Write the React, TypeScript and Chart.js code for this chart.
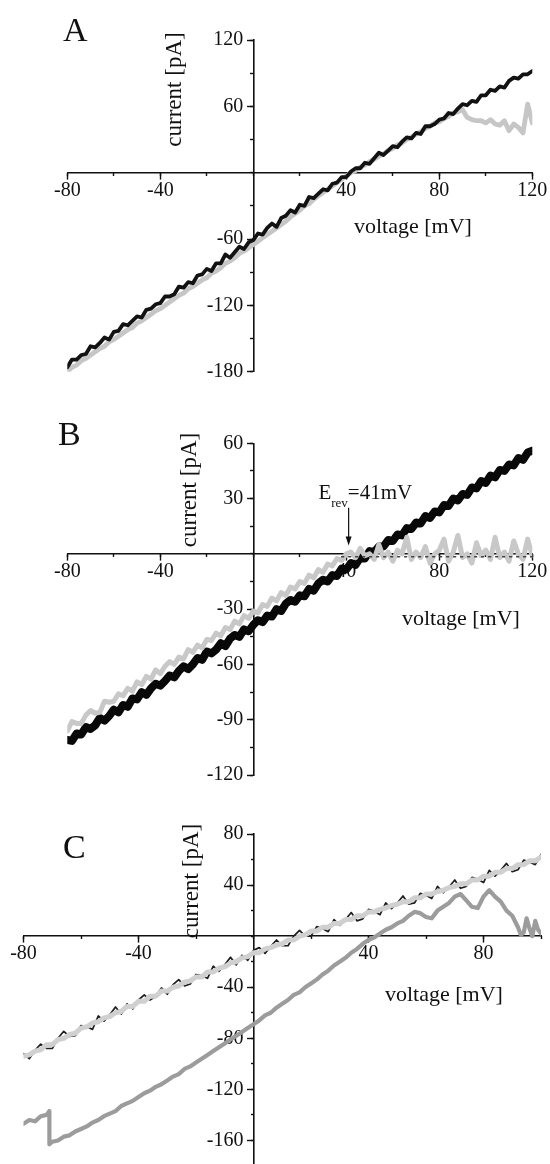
import React, { useEffect, useRef } from 'react';
import { Chart, registerables } from 'chart.js';

Chart.register(...registerables);

const SERIF = "'Liberation Serif', 'Times New Roman', Times, serif";
const INK = '#111111';

// ---------------- Panel A data ----------------
const voltageAB = [
  -80, -78, -76, -74, -72, -70, -68, -66, -64, -62,
  -60, -58, -56, -54, -52, -50, -48, -46, -44, -42,
  -40, -38, -36, -34, -32, -30, -28, -26, -24, -22,
  -20, -18, -16, -14, -12, -10, -8, -6, -4, -2,
  0, 2, 4, 6, 8, 10, 12, 14, 16, 18,
  20, 22, 24, 26, 28, 30, 32, 34, 36, 38,
  40, 42, 44, 46, 48, 50, 52, 54, 56, 58,
  60, 62, 64, 66, 68, 70, 72, 74, 76, 78,
  80, 82, 84, 86, 88, 90, 92, 94, 96, 98,
  100, 102, 104, 106, 108, 110, 112, 114, 116, 118,
  120,
];

const currentA_black = [
  -176, -169, -169, -165, -164, -157, -158, -154, -149, -151,
  -144, -143, -137, -138, -134, -130, -131, -124, -123, -119,
  -118, -112, -112, -110, -103, -104, -99, -100, -93, -92,
  -87, -89, -82, -82, -74, -77, -72, -67, -69, -63,
  -61, -55, -56, -50, -46, -49, -41, -39, -34, -36,
  -29, -30, -22, -23, -19, -15, -16, -10, -9, -4,
  -4, 1, 4, 4, 9, 8, 13, 18, 16, 20,
  24, 23, 28, 32, 31, 36, 35, 42, 42, 44,
  48, 49, 54, 53, 58, 62, 61, 65, 64, 70,
  70, 75, 74, 78, 77, 83, 86, 85, 89, 89,
  92,
];

const currentA_gray = [
  -180, -176, -174, -170, -168, -165, -162, -159, -157, -153,
  -151, -148, -145, -142, -140, -136, -134, -131, -128, -125,
  -123, -120, -117, -114, -111, -109, -105, -103, -100, -97,
  -95, -91, -89, -86, -82, -80, -77, -73, -71, -68,
  -65, -62, -59, -56, -53, -50, -47, -44, -40, -37,
  -34, -30, -28, -24, -21, -18, -15, -12, -9, -6,
  -3, 0, 2, 5, 7, 10, 12, 15, 17, 20,
  22, 25, 27, 30, 32, 35, 37, 40, 42, 45,
  46, 49, 51, 54, 55, 57, 50, 48, 47, 47,
  45, 48, 44, 43, 47, 38, 44, 41, 36, 62,
  45,
];

const xTicksA = [-80, -40, 40, 80, 120];
const xMinorA = [-80, -60, -40, -20, 0, 20, 40, 60, 80, 100, 120];
const yTicksA = [120, 60, -60, -120, -180];
const yMinorA = [120, 90, 60, 30, 0, -30, -60, -90, -120, -150, -180];

// ---------------- Panel B data ----------------
const currentB_black = [
  -101, -101.5, -97.5, -98, -94, -95, -93, -89, -90.5, -88,
  -84.5, -86, -82, -83, -78.5, -79, -75, -76.5, -73, -70.5,
  -71.5, -69, -66, -67, -63.5, -61, -62.5, -60, -56.5, -57.5,
  -53, -54, -52, -48.5, -50, -46, -44, -45, -41, -42,
  -38.5, -36, -37, -33.5, -34, -30, -31, -27, -25, -26,
  -22.5, -23, -19, -20, -16, -14, -15, -11.5, -12, -8,
  -8.5, -5, -6, -2, -2.5, 1.5, 1, 4, 4, 7.5,
  7, 10.5, 10, 14, 13.5, 17, 16.5, 20.5, 19.5, 23,
  22.5, 26.5, 26, 30, 29, 32.5, 32, 36, 35.5, 39.5,
  38.5, 42.5, 41.5, 45.5, 45, 48.5, 48, 52, 51, 55,
  56,
];

const currentB_gray = [
  -96, -91, -92, -92, -87.5, -85, -86.5, -86, -80, -80.5,
  -80, -76, -77, -73, -74.5, -69.5, -71, -66.5, -68, -63,
  -65, -61, -58.5, -60, -56, -57, -52, -53.5, -49.5, -51,
  -46.5, -47, -43, -44.5, -40, -41, -36.5, -38, -33.5, -35,
  -31, -32, -27.5, -28.5, -24, -25.5, -21, -22.5, -18, -19,
  -15, -16, -11.5, -13, -8.5, -10, -5.5, -6.5, -2.5, -3.5,
  0, 1, -2, 3, -1, 0, -3, 5, -2, 1,
  -4, 2, 0, 9, -3, 1, -2, 4, -5, 0,
  2, 8, -4, 1, 10, -2, 0, -5, 6, -1,
  2, -3, 9, -2, 1, -4, 7, 0, -3, 8,
  -1,
];

const voltageB_dotted = [38, 120];
const currentB_dotted = [-1.5, -1.5];

const E_REV = 41; // mV
const xTicksB = [-80, -40, 40, 80, 120];
const xMinorB = [-80, -60, -40, -20, 0, 20, 40, 60, 80, 100, 120];
const yTicksB = [60, 30, -30, -60, -90, -120];
const yMinorB = [60, 45, 30, 15, 0, -15, -30, -45, -60, -75, -90, -105, -120];

// ---------------- Panel C data ----------------
const voltageC = [
  -80, -78, -76, -74, -72, -70, -68, -66, -64, -62,
  -60, -58, -56, -54, -52, -50, -48, -46, -44, -42,
  -40, -38, -36, -34, -32, -30, -28, -26, -24, -22,
  -20, -18, -16, -14, -12, -10, -8, -6, -4, -2,
  0, 2, 4, 6, 8, 10, 12, 14, 16, 18,
  20, 22, 24, 26, 28, 30, 32, 34, 36, 38,
  40, 42, 44, 46, 48, 50, 52, 54, 56, 58,
  60, 62, 64, 66, 68, 70, 72, 74, 76, 78,
  80, 82, 84, 86, 88, 90, 92, 94, 96, 98,
  100,
];

const currentC_light = [
  -94, -93, -90, -89, -85, -85, -81, -80, -77, -76,
  -72, -71, -68, -67, -64, -63, -60, -59, -55, -55,
  -51, -51, -47, -47, -43, -43, -40, -39, -36, -35,
  -32, -32, -28, -28, -25, -24, -21, -20, -17, -16,
  -13, -13, -10, -9, -7, -6, -3, -3, 0, 1,
  4, 4, 7, 7, 10, 10, 13, 13, 16, 16,
  19, 19, 21, 22, 24, 25, 27, 27, 30, 30,
  33, 33, 35, 36, 38, 39, 41, 41, 44, 44,
  47, 47, 50, 50, 53, 53, 56, 56, 59, 59,
  62,
];

const currentC_black = [
  -92, -96, -89.5, -84.5, -88, -88, -80, -74.5, -78.5, -78,
  -70, -71, -73, -62.5, -66.5, -61.5, -55.5, -61, -53, -57,
  -50, -46, -50, -47, -40.5, -45.5, -38, -34, -39, -37.5,
  -30, -31, -33, -23.5, -27.5, -22.5, -16.5, -22.5, -15, -19,
  -11, -9, -13.5, -8, -3, -7.5, -7.5, 0, 4.5, 0,
  0, 7.5, 6, 3.5, 13, 8.5, 13, 18.5, 12, 13.5,
  21, 19.5, 16.8, 26, 21.5, 26, 31.5, 25, 26, 33.5,
  32, 29.5, 39, 34, 38.5, 44, 37.5, 39, 46, 44.5,
  42, 51.5, 47, 51.5, 57, 50.5, 52, 59.5, 58, 56,
  64,
];

const voltageC_mid = [
  -80, -78, -76, -74, -72, -71, -71,
  -70, -68, -66, -64, -62, -60, -58, -56, -54, -52,
  -50, -48, -46, -44, -42, -40, -38, -36, -34, -32,
  -30, -28, -26, -24, -22, -20, -18, -16, -14, -12,
  -10, -8, -6, -4, -2, 0, 2, 4, 6, 8,
  10, 12, 14, 16, 18, 20, 22, 24, 26, 28,
  30, 32, 34, 36, 38, 40, 42, 44, 46, 48,
  50, 52, 54, 56, 58, 60, 62, 64, 66, 68,
  70, 72, 74, 76, 78, 80, 82, 84, 86, 88,
  90, 92, 93, 94, 95, 96, 97, 98, 99, 100,
];

const currentC_mid = [
  -147, -144, -145, -141, -140, -137, -163,
  -161, -160, -157, -156, -153, -151, -149, -146, -144, -141,
  -139, -137, -133, -131, -129, -126, -123, -121, -118, -116,
  -113, -110, -108, -104, -102, -99, -96, -93, -90, -87,
  -84, -81, -78, -75, -72, -69, -66, -62, -60, -56,
  -53, -50, -46, -44, -40, -37, -34, -30, -27, -23,
  -20, -17, -13, -10, -6, -3, -1, 2, 5, 7,
  10, 12, 16, 19, 18, 15, 14, 20, 23, 26,
  31, 33, 28, 23, 22, 31, 36, 31, 27, 20,
  16, 7, 1, 3, 14, 6, 0, 12, 5, 2,
];

const xTicksC = [-80, -40, 40, 80];
const xMinorC = [-80, -60, -40, -20, 0, 20, 40, 60, 80, 100];
const yTicksC = [80, 40, -40, -80, -120, -160];
const yMinorC = [80, 60, 40, 20, 0, -20, -40, -60, -80, -100, -120, -140, -160, -180];

// ---------------- helpers ----------------
type TextSpec = { text: string; x: number; y: number; size: number };

type PanelSpec = {
  top: number;
  height: number;
  padding: { left: number; right: number; top: number; bottom: number };
  xMin: number; xMax: number; yMin: number; yMax: number;
  xTicks: number[]; xMinor: number[]; yTicks: number[]; yMinor: number[];
  datasets: any[];
  letter: TextSpec;
  yTitle: TextSpec;
  xTitle: TextSpec;
  erev?: boolean;
};

const trace = (xs: number[], ys: number[], color: string, width: number, dash?: number[]) => ({
  data: xs.map((x, i) => ({ x, y: ys[i] })),
  borderColor: color,
  backgroundColor: color,
  borderWidth: width,
  borderDash: dash || [],
  pointRadius: 0,
  showLine: true,
  fill: false,
  tension: 0,
  borderJoinStyle: 'round',
  borderCapStyle: 'round',
});

const tickFont = { family: SERIF, size: 20 };

const majorAxis = (axis: 'x' | 'y', min: number, max: number, ticks: number[]) => ({
  type: 'linear',
  axis,
  min,
  max,
  position: axis === 'x' ? { y: 0 } : { x: 0 },
  afterBuildTicks: (s: any) => { s.ticks = ticks.map((v) => ({ value: v })); },
  afterFit: (s: any) => { if (axis === 'x') s.height = 0; else s.width = 0; },
  grid: { display: true, drawOnChartArea: false, drawTicks: true, tickLength: 6, tickWidth: 1.4, tickColor: INK },
  border: { display: true, color: INK, width: 1.6 },
  ticks: {
    display: axis === 'x',
    autoSkip: false,
    maxRotation: 0,
    minRotation: 0,
    padding: 0,
    color: INK,
    font: tickFont,
  },
});

const minorAxis = (axis: 'x' | 'y', min: number, max: number, ticks: number[]) => ({
  type: 'linear',
  axis,
  min,
  max,
  position: axis === 'x' ? { y: 0 } : { x: 0 },
  afterBuildTicks: (s: any) => { s.ticks = ticks.map((v) => ({ value: v })); },
  afterFit: (s: any) => { if (axis === 'x') s.height = 0; else s.width = 0; },
  grid: { display: true, drawOnChartArea: false, drawTicks: true, tickLength: 3, tickWidth: 1.4, tickColor: INK },
  border: { display: false },
  ticks: { display: false },
});

const yLabelPlugin = {
  id: 'centerYLabels',
  beforeDatasetsDraw(chart: any) {
    const ys = chart.scales.y;
    const xs = chart.scales.x;
    const ctx = chart.ctx;
    const x0 = xs.getPixelForValue(0);
    ctx.save();
    ctx.font = `20px ${SERIF}`;
    ctx.fillStyle = INK;
    ctx.textAlign = 'right';
    ctx.textBaseline = 'middle';
    ys.ticks.forEach((t: any) => {
      ctx.fillText(String(t.value), x0 - 10, ys.getPixelForValue(t.value));
    });
    ctx.restore();
  },
};

const makeTextPlugin = (spec: PanelSpec) => ({
  id: 'panelTexts',
  afterDraw(chart: any) {
    const ctx = chart.ctx;
    const off = spec.top;
    ctx.save();
    ctx.fillStyle = INK;
    ctx.textBaseline = 'alphabetic';
    // panel letter
    ctx.font = `${spec.letter.size}px ${SERIF}`;
    ctx.textAlign = 'left';
    ctx.fillText(spec.letter.text, spec.letter.x, spec.letter.y - off);
    // x title
    ctx.font = `${spec.xTitle.size}px ${SERIF}`;
    ctx.fillText(spec.xTitle.text, spec.xTitle.x, spec.xTitle.y - off);
    // y title (rotated)
    ctx.save();
    ctx.translate(spec.yTitle.x, spec.yTitle.y - off);
    ctx.rotate(-Math.PI / 2);
    ctx.textAlign = 'center';
    ctx.font = `${spec.yTitle.size}px ${SERIF}`;
    ctx.fillText(spec.yTitle.text, 0, 0);
    ctx.restore();

    if (spec.erev) {
      const xs = chart.scales.x;
      const ys = chart.scales.y;
      const ax = xs.getPixelForValue(E_REV);
      const yTop = ys.getPixelForValue(25);
      const yTip = ys.getPixelForValue(4.5);
      ctx.strokeStyle = INK;
      ctx.lineWidth = 1.2;
      ctx.beginPath();
      ctx.moveTo(ax, yTop);
      ctx.lineTo(ax, yTip - 6);
      ctx.stroke();
      ctx.beginPath();
      ctx.moveTo(ax, yTip);
      ctx.lineTo(ax - 3, yTip - 9);
      ctx.lineTo(ax + 3, yTip - 9);
      ctx.closePath();
      ctx.fill();
      // label E_rev=41mV
      const tx = xs.getPixelForValue(28);
      const ty = ys.getPixelForValue(30);
      ctx.textAlign = 'left';
      ctx.font = `21px ${SERIF}`;
      ctx.fillText('E', tx, ty);
      const wE = ctx.measureText('E').width;
      ctx.font = `13px ${SERIF}`;
      ctx.fillText('rev', tx + wE, ty + 8);
      const wR = ctx.measureText('rev').width;
      ctx.font = `21px ${SERIF}`;
      ctx.fillText('=' + E_REV + 'mV', tx + wE + wR, ty);
    }
    ctx.restore();
  },
});

const panels: PanelSpec[] = [
  {
    top: 0,
    height: 390,
    padding: { left: 67.3, right: 17.7, top: 40, bottom: 18.3 },
    xMin: -80, xMax: 120, yMin: -180, yMax: 120,
    xTicks: xTicksA, xMinor: xMinorA, yTicks: yTicksA, yMinor: yMinorA,
    datasets: [
      trace(voltageAB, currentA_black, '#121212', 3.8),
      trace(voltageAB, currentA_gray, '#c6c6c6', 4.8),
    ],
    letter: { text: 'A', x: 63, y: 41, size: 34 },
    yTitle: { text: 'current [pA]', x: 181, y: 89.5, size: 23 },
    xTitle: { text: 'voltage [mV]', x: 354, y: 233, size: 22 },
  },
  {
    top: 390,
    height: 395,
    padding: { left: 67.3, right: 17.7, top: 53.3, bottom: 10 },
    xMin: -80, xMax: 120, yMin: -120, yMax: 60,
    xTicks: xTicksB, xMinor: xMinorB, yTicks: yTicksB, yMinor: yMinorB,
    datasets: [
      trace(voltageB_dotted, currentB_dotted, '#444444', 1.5, [2, 5]),
      trace(voltageAB, currentB_gray, '#c8c8c8', 5),
      trace(voltageAB, currentB_black, '#080808', 8),
    ],
    letter: { text: 'B', x: 58, y: 445, size: 34 },
    yTitle: { text: 'current [pA]', x: 196, y: 490, size: 23 },
    xTitle: { text: 'voltage [mV]', x: 402, y: 625, size: 22 },
    erev: true,
  },
  {
    top: 785,
    height: 381,
    padding: { left: 23.5, right: 9, top: 49, bottom: 0 },
    xMin: -80, xMax: 100, yMin: -180, yMax: 80,
    xTicks: xTicksC, xMinor: xMinorC, yTicks: yTicksC, yMinor: yMinorC,
    datasets: [
      trace(voltageC, currentC_light, '#d0d0d0', 5),
      trace(voltageC, currentC_black, '#1e1e1e', 1.7),
      trace(voltageC_mid, currentC_mid, '#9c9c9c', 4.2),
    ],
    letter: { text: 'C', x: 63, y: 858, size: 34 },
    yTitle: { text: 'current [pA]', x: 198, y: 881, size: 23 },
    xTitle: { text: 'voltage [mV]', x: 385, y: 1001, size: 22 },
  },
];

function Panel({ spec }: { spec: PanelSpec }) {
  const ref = useRef<HTMLCanvasElement | null>(null);
  useEffect(() => {
    if (!ref.current) return;
    const chart = new Chart(ref.current, {
      type: 'scatter',
      data: { datasets: spec.datasets },
      options: {
        animation: false,
        responsive: false,
        maintainAspectRatio: false,
        devicePixelRatio: 1,
        events: [],
        layout: { padding: spec.padding },
        plugins: { legend: { display: false }, tooltip: { enabled: false } },
        scales: {
          x: majorAxis('x', spec.xMin, spec.xMax, spec.xTicks),
          xMinor: minorAxis('x', spec.xMin, spec.xMax, spec.xMinor),
          y: majorAxis('y', spec.yMin, spec.yMax, spec.yTicks),
          yMinor: minorAxis('y', spec.yMin, spec.yMax, spec.yMinor),
        },
      } as any,
      plugins: [yLabelPlugin, makeTextPlugin(spec)],
    } as any);
    return () => chart.destroy();
  }, [spec]);
  return (
    <canvas
      ref={ref}
      width={550}
      height={spec.height}
      style={{ position: 'absolute', left: 0, top: spec.top, width: 550, height: spec.height }}
    />
  );
}

export default function App() {
  return (
    <div
      style={{
        position: 'fixed',
        left: 0,
        top: 0,
        width: 550,
        height: 1164,
        overflow: 'hidden',
        background: '#ffffff',
      }}
    >
      {panels.map((p, i) => (
        <Panel key={i} spec={p} />
      ))}
    </div>
  );
}
